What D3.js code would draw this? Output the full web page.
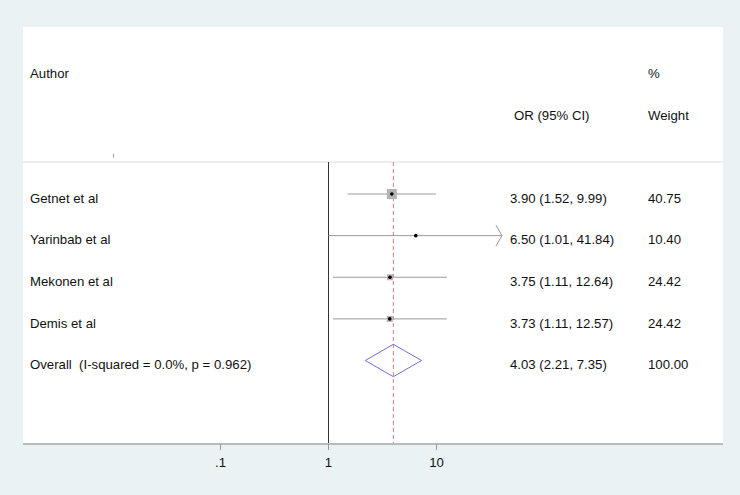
<!DOCTYPE html>
<html>
<head>
<meta charset="utf-8">
<script src="https://cdn.jsdelivr.net/npm/d3@7"></script>
<style>
  html, body { margin: 0; padding: 0; background: #eaf2f3; }
  svg { display: block; }
  text { font-family: "Liberation Sans", Arial, sans-serif; font-size: 13.2px; fill: #111; white-space: pre; }
</style>
</head>
<body>
<svg id="chart" width="740" height="495"></svg>
<script>
// ---- data ----
const authors = ["Getnet et al", "Yarinbab et al", "Mekonen et al", "Demis et al"];
const orValues = [3.90, 6.50, 3.75, 3.73];
const lowerCI = [1.52, 1.01, 1.11, 1.11];
const upperCI = [9.99, 41.84, 12.64, 12.57];
const weights = [40.75, 10.40, 24.42, 24.42];
const overallLabel = "Overall  (I-squared = 0.0%, p = 0.962)";
const overall = { or: 4.03, lo: 2.21, hi: 7.35, weight: 100.00 };
const tickValues = [0.1, 1, 10];
const tickLabels = [".1", "1", "10"];
const displayMax = 40.8;

const fmt = d3.format(".2f");

const svg = d3.select("#chart");
const W = 740, H = 495;

// panels
svg.append("rect").attr("x", 0).attr("y", 0).attr("width", W).attr("height", H).attr("fill", "#eaf2f3");
const panel = { left: 23, top: 27, right: 723, bottom: 444 };
svg.append("rect")
  .attr("x", panel.left).attr("y", panel.top)
  .attr("width", panel.right - panel.left).attr("height", panel.bottom - panel.top)
  .attr("fill", "#ffffff");

// scales
const x = d3.scaleLog().domain([0.1, 10]).range([220, 436]);
const y = d3.scaleLinear().domain([0, 4]).range([194, 360.5]);
const sepY = 162;

// header separator
svg.append("line")
  .attr("x1", panel.left).attr("x2", panel.right)
  .attr("y1", sepY).attr("y2", sepY)
  .attr("stroke", "#dcdcdc").attr("stroke-width", 1);

// tiny mark under header
svg.append("line")
  .attr("x1", 113.5).attr("x2", 113.5).attr("y1", 154).attr("y2", 157.5)
  .attr("stroke", "#999").attr("stroke-width", 1);

// headers
svg.append("text").attr("x", 30).attr("y", 77.5).text("Author");
svg.append("text").attr("x", 648).attr("y", 77.5).text("%");
svg.append("text").attr("x", 514).attr("y", 119.5).text("OR (95% CI)");
svg.append("text").attr("x", 648).attr("y", 119.5).text("Weight");

// null line at 1
svg.append("line")
  .attr("x1", Math.round(x(1)) + 0.5).attr("x2", Math.round(x(1)) + 0.5)
  .attr("y1", sepY).attr("y2", panel.bottom + 6)
  .attr("stroke", "#333").attr("stroke-width", 1);

// overall dashed line
svg.append("line")
  .attr("x1", x(overall.or)).attr("x2", x(overall.or))
  .attr("y1", sepY).attr("y2", panel.bottom)
  .attr("stroke", "#d67a7a").attr("stroke-width", 1)
  .attr("stroke-dasharray", "4,3");

// axis
svg.append("line")
  .attr("x1", panel.left).attr("x2", panel.right)
  .attr("y1", panel.bottom).attr("y2", panel.bottom)
  .attr("stroke", "#b7bcbe").attr("stroke-width", 2);

const axisG = svg.append("g").attr("transform", `translate(0,${panel.bottom})`);
const axis = d3.axisBottom(x).tickValues(tickValues)
  .tickFormat((d, i) => tickLabels[i]).tickSize(6).tickPadding(6);
axisG.call(axis);
axisG.select(".domain").remove();
axisG.selectAll(".tick line").attr("stroke", "#999");
axisG.selectAll(".tick text")
  .attr("font-family", "Liberation Sans, Arial, sans-serif")
  .attr("font-size", 13.2).attr("fill", "#111").attr("dy", null).attr("y", 23);

// study rows
const rows = authors.map((a, i) => ({
  author: a, or: orValues[i], lo: lowerCI[i], hi: upperCI[i], w: weights[i], i
}));
const maxW = d3.max(weights);
const boxScale = d3.scaleLinear().domain([0, maxW]).range([0, 10]);

rows.forEach(r => {
  const cy = y(r.i);
  const xhi = r.hi > displayMax ? x(displayMax) : x(r.hi);
  svg.append("line")
    .attr("x1", x(r.lo)).attr("x2", xhi)
    .attr("y1", cy).attr("y2", cy)
    .attr("stroke", "#9a9a9a").attr("stroke-width", 1);
  if (r.hi > displayMax) {
    svg.append("path")
      .attr("d", `M${xhi - 6},${cy - 10.5} L${xhi},${cy} L${xhi - 6},${cy + 10.5}`)
      .attr("fill", "none").attr("stroke", "#9a9a9a").attr("stroke-width", 1);
  }
  const s = boxScale(r.w);
  svg.append("rect")
    .attr("x", x(r.or) - s / 2).attr("y", cy - s / 2)
    .attr("width", s).attr("height", s)
    .attr("fill", "#b4b4b4");
  svg.append("circle")
    .attr("cx", x(r.or)).attr("cy", cy).attr("r", 1.8)
    .attr("fill", "#000");

  svg.append("text").attr("x", 30).attr("y", cy + 8.7).text(r.author);
  svg.append("text").attr("x", 510).attr("y", cy + 8.7)
    .text(`${fmt(r.or)} (${fmt(r.lo)}, ${fmt(r.hi)})`);
  svg.append("text").attr("x", 648).attr("y", cy + 8.7).text(fmt(r.w));
});

// overall
const oy = y(4);
const dh = 16.2;
svg.append("path")
  .attr("d", `M${x(overall.lo)},${oy} L${x(overall.or)},${oy - dh} L${x(overall.hi)},${oy} L${x(overall.or)},${oy + dh} Z`)
  .attr("fill", "none").attr("stroke", "#7070d0").attr("stroke-width", 1);
svg.append("text").attr("x", 30).attr("y", oy + 8.7).text(overallLabel);
svg.append("text").attr("x", 510).attr("y", oy + 8.7)
  .text(`${fmt(overall.or)} (${fmt(overall.lo)}, ${fmt(overall.hi)})`);
svg.append("text").attr("x", 648).attr("y", oy + 8.7).text(fmt(overall.weight));
</script>
</body>
</html>
